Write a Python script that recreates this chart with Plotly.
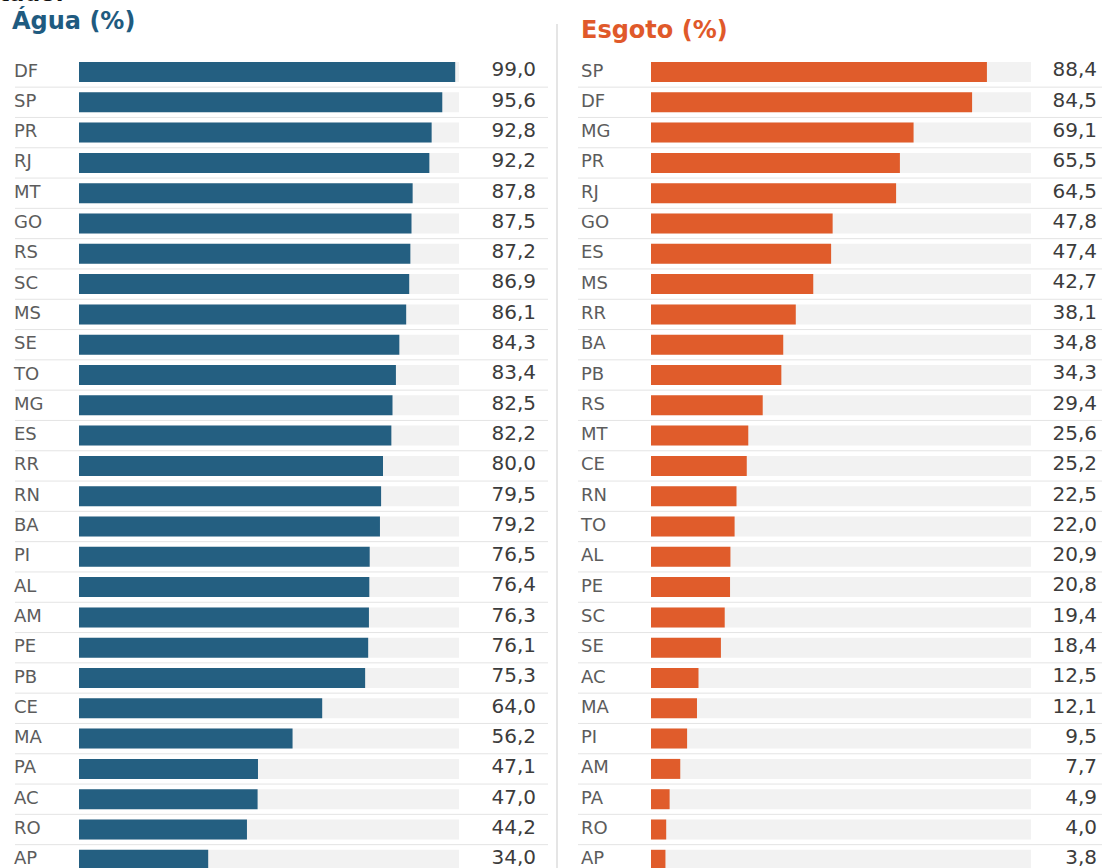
import plotly.graph_objects as go

agua_states = ["DF", "SP", "PR", "RJ", "MT", "GO", "RS", "SC", "MS", "SE", "TO", "MG", "ES", "RR",
               "RN", "BA", "PI", "AL", "AM", "PE", "PB", "CE", "MA", "PA", "AC", "RO", "AP"]
agua_values = [99.0, 95.6, 92.8, 92.2, 87.8, 87.5, 87.2, 86.9, 86.1, 84.3, 83.4, 82.5, 82.2, 80.0,
               79.5, 79.2, 76.5, 76.4, 76.3, 76.1, 75.3, 64.0, 56.2, 47.1, 47.0, 44.2, 34.0]

esgoto_states = ["SP", "DF", "MG", "PR", "RJ", "GO", "ES", "MS", "RR", "BA", "PB", "RS", "MT", "CE",
                 "RN", "TO", "AL", "PE", "SC", "SE", "AC", "MA", "PI", "AM", "PA", "RO", "AP"]
esgoto_values = [88.4, 84.5, 69.1, 65.5, 64.5, 47.8, 47.4, 42.7, 38.1, 34.8, 34.3, 29.4, 25.6, 25.2,
                 22.5, 22.0, 20.9, 20.8, 19.4, 18.4, 12.5, 12.1, 9.5, 7.7, 4.9, 4.0, 3.8]

W, H = 1110, 868
SCALE = 3.8          # px per percentage point
PITCH = 30.3         # px per row
FIRST_ROW = 72       # px centre of first row
BLUE = "#245f81"
ORANGE = "#e05c2b"
TRACK = "#f2f2f2"
FONT = "DejaVu Sans"

def fmt(v):
    return f"{v:.1f}".replace(".", ",")

fig = go.Figure()

n = len(agua_states)
rows = list(range(n))

panels = [
    dict(states=agua_states, values=agua_values, color=BLUE, xa="x", ya="y",
         dom_px=(0, 556), origin=79, label_px=14, value_px=536, line_px=(15, 548)),
    dict(states=esgoto_states, values=esgoto_values, color=ORANGE, xa="x2", ya="y2",
         dom_px=(557, 1110), origin=651, label_px=581, value_px=1097, line_px=(578, 1102)),
]

shapes = []
for p in panels:
    xa, ya = p["xa"], p["ya"]
    to_data = lambda px, o=p["origin"]: (px - o) / SCALE
    # track
    fig.add_trace(go.Bar(x=[100] * n, y=rows, orientation="h", marker=dict(color=TRACK, line_width=0),
                         width=0.66, xaxis=xa, yaxis=ya, hoverinfo="skip", showlegend=False))
    # values
    fig.add_trace(go.Bar(x=p["values"], y=rows, orientation="h",
                         marker=dict(color=p["color"], line_width=0),
                         width=0.66, xaxis=xa, yaxis=ya, showlegend=False,
                         hovertext=p["states"], hoverinfo="text+x"))
    # state labels
    fig.add_trace(go.Scatter(x=[to_data(p["label_px"])] * n, y=rows, mode="text",
                             text=p["states"], textposition="middle right",
                             textfont=dict(family=FONT, size=18, color="#5c5c5c"),
                             xaxis=xa, yaxis=ya, hoverinfo="skip", showlegend=False))
    # value labels
    fig.add_trace(go.Scatter(x=[to_data(p["value_px"])] * n, y=[r - 0.02 for r in rows], mode="text",
                             text=[fmt(v) for v in p["values"]], textposition="middle left",
                             textfont=dict(family=FONT, size=20, color="#3c3c3c"),
                             xaxis=xa, yaxis=ya, hoverinfo="skip", showlegend=False))
    # separator lines
    for r in rows[:-1]:
        shapes.append(dict(type="line", xref=xa, yref=ya,
                           x0=to_data(p["line_px"][0]), x1=to_data(p["line_px"][1]),
                           y0=r + 0.5, y1=r + 0.5, line=dict(color="#e4e4e4", width=1)))

# vertical divider
shapes.append(dict(type="line", xref="paper", yref="paper", x0=557 / W, x1=557 / W,
                   y0=0, y1=1 - 24 / H, line=dict(color="#dcdcdc", width=1.5)))

ytop = -FIRST_ROW / PITCH
ybot = (H - FIRST_ROW) / PITCH

def xrange_for(p):
    return [(p["dom_px"][0] - p["origin"]) / SCALE, (p["dom_px"][1] - p["origin"]) / SCALE]

axis_common = dict(showgrid=False, zeroline=False, showticklabels=False, showline=False, fixedrange=True)

fig.update_layout(
    width=W, height=H,
    margin=dict(l=0, r=0, t=0, b=0),
    paper_bgcolor="white", plot_bgcolor="white",
    barmode="overlay",
    xaxis=dict(domain=[panels[0]["dom_px"][0] / W, panels[0]["dom_px"][1] / W],
               range=xrange_for(panels[0]), **axis_common),
    xaxis2=dict(domain=[panels[1]["dom_px"][0] / W, panels[1]["dom_px"][1] / W],
                range=xrange_for(panels[1]), anchor="y2", **axis_common),
    yaxis=dict(domain=[0, 1], range=[ybot, ytop], **axis_common),
    yaxis2=dict(domain=[0, 1], range=[ybot, ytop], anchor="x2", **axis_common),
    shapes=shapes,
    annotations=[
        dict(text="<b>Água (%)</b>", x=10 / W, y=1 - 21 / H, xref="paper", yref="paper",
             xanchor="left", yanchor="middle", showarrow=False,
             font=dict(family=FONT, size=24, color="#1f5b80")),
        dict(text="<b>Esgoto (%)</b>", x=579 / W, y=1 - 30 / H, xref="paper", yref="paper",
             xanchor="left", yanchor="middle", showarrow=False,
             font=dict(family=FONT, size=24, color="#e0592a")),
        dict(text="<b>estado:</b>", x=66 / W, y=1 + 7 / H, xref="paper", yref="paper",
             xanchor="right", yanchor="middle", showarrow=False,
             font=dict(family=FONT, size=22, color="#111111")),
    ],
)

fig.write_html("out.html")
